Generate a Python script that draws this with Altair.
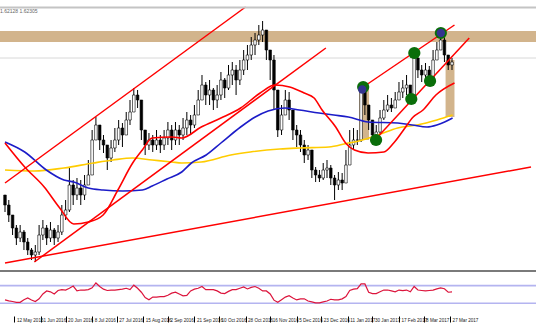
import json
import altair as alt
import pandas as pd

# ---------------- data ----------------
tick_idx = [5, 19, 32, 46, 59, 73, 86, 100, 113, 127, 140, 154, 167, 181, 194, 208, 221, 235]
tick_lab = ["12 May 2016", "1 Jun 2016", "20 Jun 2016", "8 Jul 2016", "27 Jul 2016",
            "15 Aug 2016", "2 Sep 2016", "21 Sep 2016", "10 Oct 2016", "28 Oct 2016", "16 Nov 2016",
            "5 Dec 2016", "23 Dec 2016", "11 Jan 2017", "30 Jan 2017", "17 Feb 2017", "8 Mar 2017",
            "27 Mar 2017"]

first_open = 1.505
close = [1.495, 1.485, 1.472, 1.462, 1.468, 1.458, 1.450, 1.445, 1.448, 1.465,
         1.472, 1.462, 1.470, 1.462, 1.468, 1.485, 1.490, 1.515, 1.505, 1.512,
         1.505, 1.515, 1.525, 1.560, 1.575, 1.560, 1.555, 1.542, 1.552, 1.560,
         1.572, 1.565, 1.580, 1.588, 1.605, 1.600, 1.570, 1.555, 1.560, 1.555,
         1.560, 1.555, 1.562, 1.570, 1.560, 1.570, 1.565, 1.572, 1.580, 1.575,
         1.585, 1.600, 1.615, 1.605, 1.610, 1.600, 1.605, 1.620, 1.612, 1.625,
         1.630, 1.620, 1.630, 1.640, 1.645, 1.655, 1.660, 1.665, 1.670, 1.650,
         1.640, 1.610, 1.570, 1.585, 1.600, 1.590, 1.570, 1.565, 1.555, 1.545,
         1.550, 1.530, 1.525, 1.522, 1.530, 1.532, 1.522, 1.515, 1.520, 1.517,
         1.535, 1.555, 1.560, 1.560, 1.608, 1.595, 1.580, 1.565, 1.568, 1.582,
         1.590, 1.595, 1.592, 1.600, 1.608, 1.612, 1.615, 1.605, 1.642, 1.630,
         1.625, 1.630, 1.622, 1.640, 1.650, 1.660, 1.645, 1.635, 1.638]
high = [1.505, 1.500, 1.485, 1.475, 1.475, 1.470, 1.462, 1.452, 1.455, 1.475,
        1.480, 1.475, 1.478, 1.472, 1.475, 1.495, 1.500, 1.532, 1.520, 1.522,
        1.520, 1.525, 1.540, 1.570, 1.583, 1.575, 1.565, 1.555, 1.560, 1.572,
        1.580, 1.577, 1.588, 1.600, 1.612, 1.610, 1.600, 1.565, 1.567, 1.565,
        1.570, 1.565, 1.570, 1.578, 1.575, 1.578, 1.575, 1.582, 1.588, 1.585,
        1.595, 1.610, 1.625, 1.618, 1.620, 1.612, 1.615, 1.628, 1.622, 1.635,
        1.638, 1.635, 1.640, 1.650, 1.655, 1.663, 1.667, 1.675, 1.679, 1.665,
        1.650, 1.645, 1.590, 1.595, 1.610, 1.608, 1.590, 1.575, 1.570, 1.560,
        1.555, 1.550, 1.533, 1.530, 1.537, 1.540, 1.535, 1.525, 1.528, 1.527,
        1.550, 1.570, 1.572, 1.570, 1.613, 1.610, 1.595, 1.580, 1.575, 1.590,
        1.600, 1.605, 1.602, 1.608, 1.618, 1.620, 1.625, 1.615, 1.647, 1.642,
        1.635, 1.637, 1.634, 1.650, 1.658, 1.667, 1.662, 1.645, 1.642]
low = [1.488, 1.478, 1.465, 1.455, 1.458, 1.450, 1.445, 1.440, 1.438, 1.445,
       1.460, 1.455, 1.458, 1.455, 1.458, 1.465, 1.480, 1.488, 1.495, 1.500,
       1.495, 1.500, 1.515, 1.525, 1.560, 1.550, 1.547, 1.530, 1.538, 1.548,
       1.555, 1.553, 1.570, 1.575, 1.590, 1.592, 1.560, 1.545, 1.550, 1.548,
       1.550, 1.547, 1.550, 1.555, 1.550, 1.555, 1.555, 1.560, 1.565, 1.565,
       1.572, 1.588, 1.600, 1.595, 1.595, 1.590, 1.592, 1.600, 1.602, 1.610,
       1.615, 1.605, 1.615, 1.625, 1.630, 1.640, 1.645, 1.655, 1.658, 1.640,
       1.620, 1.590, 1.563, 1.565, 1.588, 1.580, 1.560, 1.553, 1.548, 1.537,
       1.540, 1.522, 1.518, 1.518, 1.520, 1.522, 1.515, 1.500, 1.510, 1.510,
       1.522, 1.540, 1.550, 1.555, 1.558, 1.585, 1.570, 1.558, 1.558, 1.565,
       1.580, 1.588, 1.588, 1.592, 1.600, 1.602, 1.605, 1.600, 1.604, 1.622,
       1.618, 1.620, 1.618, 1.628, 1.640, 1.650, 1.638, 1.630, 1.630]

rsi = [37.5, 35.5, 34, 32, 32, 38, 42, 37.5, 34, 40,
       51, 58, 56, 51, 59, 61, 60, 64, 69, 58,
       60, 60, 61, 65, 76, 68, 62, 59, 60, 60,
       61, 62, 64, 61, 71, 64, 55, 43, 38, 44,
       44, 45, 45, 48, 53, 55, 51, 47, 48, 58,
       62, 64, 68, 61, 61, 61, 58, 53, 52, 57,
       61, 61, 64, 67, 62.5, 66, 68, 64, 58, 58,
       51, 37, 32, 38, 44, 47, 42, 37.5, 40, 40,
       35, 33, 31, 31, 33, 35, 39, 37.5, 37.5, 40,
       45, 59, 62, 63, 74, 74, 55, 52, 52, 56,
       60, 60, 58, 56, 60, 58.5, 60, 56, 68, 60,
       59, 58, 59, 60, 62.5, 64.8, 63, 55, 55.7]

# moving averages (bar index, price)
ma_blue_bar = [0, 10.4, 21.8, 31.1, 36.3, 44.0, 51.8, 62.2, 72.5, 77.7, 85.5, 93.3, 98.4, 106.2, 114.0,
               124.4, 132.1, 138.9, 147.7, 155.4, 165.8, 173.6, 181.3, 191.7, 207.3, 215.0, 222.8,
               228.0, 232.1, 236.3]
ma_blue_val = [1.558, 1.548, 1.530, 1.520, 1.518, 1.512, 1.510, 1.509, 1.510, 1.514, 1.521, 1.528,
               1.537, 1.545, 1.557, 1.573, 1.583, 1.589, 1.592, 1.590, 1.587, 1.585, 1.583, 1.578,
               1.577, 1.575, 1.573, 1.575, 1.578, 1.582]
ma_yel_bar = [0, 15.5, 31.1, 46.6, 57.0, 67.4, 77.7, 88.1, 93.3, 103.6, 119.2, 129.5, 145.1, 155.4,
              171.0, 181.3, 184.5, 196.9, 207.3, 217.6, 228.0, 236.3]
ma_yel_val = [1.530, 1.529, 1.532, 1.537, 1.540, 1.542, 1.540, 1.538, 1.537, 1.538, 1.545, 1.548,
              1.551, 1.552, 1.553, 1.557, 1.558, 1.565, 1.572, 1.575, 1.580, 1.585]
ma_red_bar = [0, 10.4, 20.7, 28.5, 36.3, 44.0, 51.8, 59.6, 67.4, 72.5, 77.7, 88.1, 93.3, 103.6, 114.0,
              124.4, 134.7, 142.5, 150.3, 158.0, 163.2, 167.4, 174.6, 179.8, 184.5, 191.7, 200.0,
              205.2, 210.4, 215.5, 220.7, 227.5, 237.3]
ma_red_val = [1.557, 1.533, 1.513, 1.493, 1.476, 1.478, 1.485, 1.510, 1.537, 1.550, 1.562, 1.563,
              1.562, 1.573, 1.582, 1.592, 1.607, 1.615, 1.613, 1.607, 1.602, 1.590, 1.573, 1.557,
              1.550, 1.547, 1.548, 1.557, 1.570, 1.583, 1.590, 1.605, 1.617]

# trend lines: start bar, start price, end bar, end price
tl_b1 = [0, 15.5, 0, 189.1, 193.8]
tl_p1 = [1.517, 1.438, 1.437, 1.613, 1.557]
tl_b2 = [127, 169.4, 277.7, 237.3, 245.1]
tl_p2 = [1.693, 1.652, 1.533, 1.675, 1.662]

level_line = [1.642]
zone_top = [1.669]
zone_bot = [1.658]
box_b1 = [187, 232.6]
box_b2 = [192.2, 237.3]
box_p1 = [1.612, 1.640]
box_p2 = [1.560, 1.583]

dot_bar = [189.1, 216.1, 230.1, 224.4, 214.5, 195.9]
dot_val = [1.613, 1.647, 1.667, 1.619, 1.601, 1.560]
dot_blue_bar = [188.6, 230.1]
dot_blue_val = [1.6105, 1.667]

rsi_levels = [70, 30]
header = "1.62128 1.62305"

# ---------------- tables ----------------
bars = [2 * k for k in range(len(close))]
opens = [first_open] + close[:-1]
cdf = pd.DataFrame({"bar": bars, "open": opens, "close": close,
                    "high": [max(h, o, c) for h, o, c in zip(high, opens, close)],
                    "low": [min(l, o, c) for l, o, c in zip(low, opens, close)]})
cdf["up"] = cdf["close"] >= cdf["open"]
rdf = pd.DataFrame({"bar": bars, "rsi": rsi})
ma = pd.concat([
    pd.DataFrame({"bar": ma_yel_bar, "p": ma_yel_val, "s": "a"}),
    pd.DataFrame({"bar": ma_blue_bar, "p": ma_blue_val, "s": "b"}),
    pd.DataFrame({"bar": ma_red_bar, "p": ma_red_val, "s": "c"}),
])
tdf = pd.DataFrame({"b1": tl_b1, "p1": tl_p1, "b2": tl_b2, "p2": tl_p2})
bdf = pd.DataFrame({"b1": box_b1, "b2": box_b2, "p1": box_p1, "p2": box_p2})
zdf = pd.DataFrame({"p1": zone_top, "p2": zone_bot})
ldf = pd.DataFrame({"p": level_line})
ddf = pd.DataFrame({"bar": dot_bar, "p": dot_val})
dbdf = pd.DataFrame({"bar": dot_blue_bar, "p": dot_blue_val})
vdf = pd.DataFrame({"v": rsi_levels})

W = 536
H = 310          # whole plotting area: price panel on top, RSI panel below
SEP = 266        # bottom of the price panel inside the plot area

label_expr = f"{json.dumps(tick_lab)}[indexof({json.dumps(tick_idx)}, datum.value)]"
xaxis = alt.Axis(values=tick_idx, labelExpr=label_expr, tickSize=6, tickColor="#000000", tickWidth=1,
                 labelFontSize=4.6, labelFont="Liberation Sans", labelColor="#222222",
                 labelAlign="left", labelBaseline="middle", labelPadding=-2, labelOffset=2,
                 domain=False, grid=False, labelFlush=False, labelOverlap=False, title=None)
xs = alt.Scale(domain=[0, 277.7], nice=False, zero=False)
ys = alt.Scale(domain=[1.428, 1.694], range=[SEP, 0], nice=False, zero=False)
rys = alt.Scale(domain=[1, 101], range=[H, SEP], nice=False, zero=False)
X = lambda f: alt.X(f, type="quantitative", scale=xs, axis=xaxis)
Y = lambda f: alt.Y(f, type="quantitative", scale=ys, axis=None)
RY = lambda f: alt.Y(f, type="quantitative", scale=rys, axis=None)

zone = alt.Chart(zdf).mark_rect(color="#d2b48c").encode(
    x=alt.value(0), x2=alt.value(W), y=Y("p1"), y2="p2")
boxes = alt.Chart(bdf).mark_rect(color="#d2b48c").encode(
    x=X("b1"), x2="b2", y=Y("p1"), y2="p2")
level = alt.Chart(ldf).mark_rule(color="#d8d8d8", strokeWidth=1).encode(
    x=alt.value(0), x2=alt.value(W), y=Y("p"))
wick = alt.Chart(cdf).mark_rule(color="#000000", strokeWidth=1, clip=True).encode(
    x=X("bar"), y=Y("low"), y2="high")
body = alt.Chart(cdf).mark_bar(size=2.6, stroke="#000000", strokeWidth=0.6, clip=True).encode(
    x=X("bar"), y=Y("open"), y2="close",
    fill=alt.condition("datum.up", alt.value("#ffffff"), alt.value("#000000")))
mas = alt.Chart(ma).mark_line(strokeWidth=1.6, interpolate="monotone", clip=True).encode(
    x=X("bar"), y=Y("p"),
    color=alt.Color("s:N", scale=alt.Scale(domain=["a", "b", "c"],
                                           range=["#ffcc00", "#1c1cc8", "#ff0000"]), legend=None))
trends = alt.Chart(tdf).mark_rule(color="#ff0000", strokeWidth=1.5, clip=True).encode(
    x=X("b1"), x2="b2", y=Y("p1"), y2="p2")
dots = alt.Chart(ddf).mark_point(filled=True, size=150, color="#0a6e0a", opacity=1).encode(
    x=X("bar"), y=Y("p"))
dots_b = alt.Chart(dbdf).mark_point(filled=True, size=70, color="#33338f", opacity=1).encode(
    x=X("bar"), y=Y("p"))
lv = alt.Chart(vdf).mark_rule(color="#b4b4f0", strokeWidth=1.6).encode(
    x=alt.value(0), x2=alt.value(W), y=RY("v"))
rline = alt.Chart(rdf).mark_line(color="#dc143c", strokeWidth=1.2, clip=True).encode(
    x=X("bar"), y=RY("rsi"))
topline = alt.Chart(ldf).mark_rule(color="#c4c4c4", strokeWidth=2).encode(
    x=alt.value(0), x2=alt.value(W), y=alt.value(1.5))
sep = alt.Chart(ldf).mark_rule(color="#7a7a7a", strokeWidth=2).encode(
    x=alt.value(0), x2=alt.value(W), y=alt.value(SEP - 1))
head = alt.Chart(ldf).mark_text(align="left", baseline="middle", fontSize=5, font="Liberation Sans",
                                color="#666666").encode(
    x=alt.value(0), y=alt.value(5), text=alt.value(header))

chart = alt.layer(zone, boxes, level, wick, body, mas, trends, dots, dots_b,
                  lv, rline, topline, sep, head).resolve_scale(y="independent").properties(
    width=W, height=H,
    autosize=alt.AutoSizeParams(type="none"),
    padding={"left": 0, "top": 6, "right": 0, "bottom": 16},
    background="white"
).configure_view(stroke=None)

chart.save("out.html", embed_options={"renderer": "svg", "actions": False})
